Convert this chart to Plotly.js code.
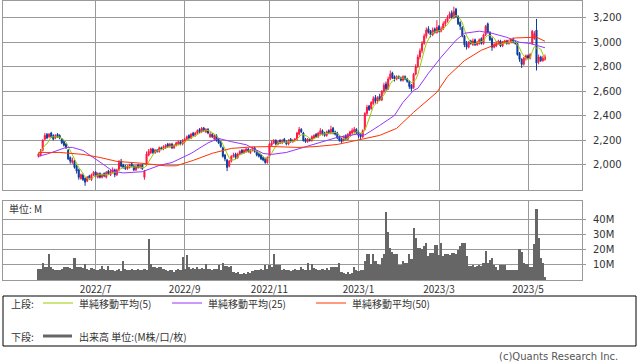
<!DOCTYPE html>
<html><head><meta charset="utf-8">
<script src="https://cdn.plot.ly/plotly-3.0.1.min.js"></script>
<style>html,body{margin:0;padding:0;background:#fff;}#chart{width:638px;height:362px;}</style>
</head><body><div id="chart"></div>
<script>
// ---- data (trading-day index 0 = 2022/5/25) ----
const openP = [
2070,2080,2120,2210,2250,2230,2260,2240,2220,2250,
2240,2210,2190,2170,2120,2060,2020,2030,1990,1960,
1890,1920,1890,1870,1910,1880,1920,1940,1900,1930,
1900,1930,1900,1950,1920,1940,1960,1920,1960,2030,
2000,1990,1970,1980,2010,1990,1960,2000,1980,2000,
1900,2000,2080,2100,2130,2100,2120,2110,2140,2130,
2140,2170,2150,2170,2140,2160,2170,2190,2170,2190,
2210,2240,2220,2260,2240,2260,2290,2270,2300,2270,
2290,2230,2250,2210,2240,2210,2190,2140,2080,2040,
1990,2030,2070,2090,2060,2090,2120,2100,2110,2130,
2100,2120,2140,2110,2090,2080,2060,2050,2020,2070,
2160,2180,2200,2170,2200,2180,2210,2190,2170,2210,
2190,2200,2210,2250,2290,2260,2210,2190,2210,2200,
2220,2250,2230,2250,2280,2260,2240,2280,2260,2300,
2270,2260,2230,2210,2200,2240,2210,2240,2260,2270,
2290,2270,2250,2230,2290,2420,2480,2460,2500,2550,
2520,2560,2530,2600,2660,2620,2700,2750,2720,2700,
2720,2710,2690,2720,2700,2680,2650,2630,2740,2800,
2880,2930,2990,3050,3110,3090,3060,3110,3080,3130,
3090,3110,3150,3170,3200,3240,3200,3270,3210,3160,
3120,3050,2990,2960,3010,2980,3020,2980,2990,3030,
2990,3060,3150,3080,3030,2960,2970,2990,3010,2970,
3000,3010,2990,3000,3020,3000,2990,2910,2860,2820,
2870,2890,2870,2990,3030,3100,2840,2880,2850,2860];
const highP = [
2100,2130,2210,2260,2260,2260,2270,2250,2250,2260,
2250,2220,2200,2180,2130,2070,2060,2040,2000,1970,
1930,1930,1900,1910,1920,1930,1950,1950,1940,1940,
1930,1940,1950,1960,1960,1980,1970,1970,2040,2050,
2010,2000,2000,2010,2020,2000,2000,2010,2010,2010,
1960,2110,2130,2140,2140,2130,2130,2150,2150,2160,
2170,2180,2180,2180,2170,2190,2200,2200,2210,2220,
2240,2250,2260,2270,2270,2290,2300,2310,2310,2300,
2300,2270,2260,2250,2250,2220,2200,2150,2090,2050,
2040,2080,2100,2100,2100,2120,2130,2130,2140,2140,
2130,2150,2150,2120,2100,2090,2070,2060,2070,2180,
2200,2210,2210,2200,2210,2210,2220,2200,2210,2220,
2210,2220,2270,2310,2300,2270,2220,2220,2220,2240,
2250,2260,2270,2300,2290,2270,2280,2290,2320,2310,
2280,2270,2240,2220,2240,2250,2260,2280,2300,2310,
2300,2280,2260,2290,2430,2490,2490,2520,2560,2570,
2560,2580,2610,2670,2680,2720,2770,2760,2730,2730,
2730,2720,2730,2730,2710,2690,2660,2750,2820,2900,
2950,3010,3070,3120,3130,3100,3120,3120,3180,3140,
3130,3170,3190,3220,3250,3260,3290,3280,3220,3170,
3130,3060,3010,3010,3020,3030,3030,3010,3030,3040,
3070,3140,3160,3090,3040,3000,3010,3020,3020,3010,
3020,3020,3010,3030,3040,3010,2990,2920,2870,2880,
2900,2900,2910,3100,3090,3190,2900,2890,2890,2900];
const lowP = [
2060,2070,2110,2200,2210,2220,2220,2200,2210,2220,
2210,2170,2150,2130,2040,2010,2010,1970,1930,1880,
1880,1870,1830,1860,1880,1870,1910,1900,1890,1890,
1890,1900,1890,1920,1910,1930,1900,1910,1950,1980,
1970,1960,1960,1970,1980,1950,1950,1970,1970,1960,
1880,1990,2070,2090,2090,2090,2100,2100,2120,2120,
2130,2140,2140,2130,2130,2150,2160,2160,2160,2180,
2200,2210,2210,2230,2230,2250,2260,2260,2270,2260,
2250,2220,2220,2200,2190,2170,2140,2060,2030,1950,
1980,2020,2060,2050,2050,2080,2090,2090,2100,2100,
2090,2110,2100,2070,2060,2040,2030,2010,2010,2060,
2150,2170,2160,2160,2170,2170,2180,2160,2160,2180,
2180,2190,2200,2240,2260,2190,2180,2180,2190,2190,
2210,2220,2220,2240,2240,2230,2230,2250,2250,2250,
2240,2210,2190,2180,2190,2200,2200,2230,2250,2260,
2250,2220,2210,2220,2280,2400,2440,2450,2490,2500,
2500,2520,2520,2580,2600,2610,2690,2700,2680,2690,
2700,2680,2680,2690,2670,2620,2600,2620,2730,2790,
2860,2910,2980,3030,3070,3040,3050,3070,3070,3080,
3080,3100,3130,3160,3190,3190,3190,3200,3140,3100,
3040,2960,2940,2950,2980,2970,2970,2970,2980,2980,
2980,3050,3070,3010,2930,2950,2960,2980,2960,2960,
2990,2980,2980,2990,2990,2980,2890,2840,2790,2810,
2850,2860,2860,2980,3020,2770,2820,2840,2840,2850];
const closeP = [
2090,2110,2200,2240,2220,2250,2230,2210,2240,2230,
2220,2180,2160,2140,2050,2030,2040,1980,1950,1900,
1920,1880,1860,1900,1890,1920,1940,1910,1930,1900,
1920,1910,1940,1930,1950,1960,1920,1960,2020,1990,
1980,1970,1990,2000,1990,1960,1990,1980,2000,1970,
1950,2090,2110,2130,2100,2120,2110,2140,2130,2150,
2160,2150,2170,2140,2160,2180,2190,2170,2200,2210,
2230,2220,2250,2240,2260,2280,2270,2300,2280,2290,
2260,2250,2230,2240,2200,2180,2150,2070,2050,1980,
2030,2070,2080,2060,2090,2110,2100,2120,2130,2110,
2120,2140,2110,2080,2070,2050,2040,2020,2060,2170,
2180,2200,2170,2190,2180,2200,2190,2170,2200,2190,
2200,2210,2260,2290,2270,2200,2190,2210,2200,2230,
2240,2230,2260,2280,2250,2240,2270,2260,2290,2260,
2250,2220,2200,2190,2230,2210,2250,2270,2280,2290,
2260,2240,2230,2280,2420,2470,2450,2510,2540,2520,
2550,2530,2600,2650,2620,2700,2740,2710,2700,2720,
2710,2690,2720,2700,2680,2640,2620,2740,2800,2880,
2930,2990,3050,3100,3080,3060,3100,3080,3120,3090,
3110,3150,3170,3200,3230,3200,3250,3210,3150,3130,
3050,2980,2960,3000,2990,3010,2980,3000,3020,2990,
3060,3130,3080,3020,2960,2980,2990,3010,2970,3000,
3010,2990,3000,3020,3000,2990,2900,2860,2820,2870,
2890,2870,2900,3090,3070,2830,2880,2850,2870,2880];
const volumeM = [
7,7,11,8,8,17,8.5,7,6.5,6,
6.5,7,8,8,8.5,7.5,7,14,8.5,8.5,
8,7.5,10,7,6.5,7.5,7,6,6.5,7,
9,7,6.5,9,6.5,6,5.5,6.5,7,5.5,
12,7,6.5,6,7,6,6.5,7,6,6.5,
7,6,27,10,8,8,7.5,8,8.5,7,
6,5.5,6.5,6,5,6,7,6,14.7,7,
16,8,7,7.5,7,8,7,7.5,7,10,
7,7,6.5,7,7,9.7,6,11,9,9,
8.5,9,5,4.5,5,4,3.5,4.5,4,5,
4.5,5.5,6,6.5,6,7,6.5,9.5,7,9.7,
8,17,9.7,9.5,9.7,6,7,6.5,6,5.5,
6,7,6.5,6,8.5,7,6.5,11,6,10.5,
7.5,7,6,6.5,7,6,7.5,6.5,8.5,8.5,
8,8,11,5,4.5,4,5,3.5,4.5,8.5,
6,5.5,6,6.5,12,16.7,16.7,10,16.7,12,
10,9.5,14.4,16.7,44.6,31.6,21,18.5,17,17,
9.7,9.7,12,11,11,16.7,13.8,34.3,27.8,21.2,
21,20,22,24.4,15.7,17.6,17.6,23,23,16,
24.4,15.7,17,17,16,17.6,17.6,17,19.6,22,
24.4,24.4,15.7,9,9,9.5,8.5,9,9.5,9,
11,19,11,13,14.4,9.4,8,6.5,9.4,9.4,
9.4,6.5,6,6.5,6,6.5,6,20,18.5,11,
10,10,8.5,8.5,23.6,47,27.8,14.4,11,2];
// moving averages (day index, value)
const ma25Day = [0,5,13,16,21,26,30,35,40,49,57,63,72,80,85,91,98,106,110,117,128,132,141,150,154,161,168,172,177,179,184,190,197,201,208,214,221,227,232,239];
const ma25Val = [2070,2094,2143,2143,2118,2061,2012,1950,1935,1945,1996,2020,2094,2180,2216,2190,2165,2094,2086,2102,2159,2184,2225,2250,2245,2322,2404,2510,2608,2624,2747,2878,3016,3073,3090,3073,3040,3000,2990,2955];
const ma50Day = [0,10,21,29,37,48,60,65,73,82,91,101,110,123,131,141,150,161,169,177,188,193,201,209,215,221,225,235,239];
const ma50Val = [2102,2102,2086,2061,2029,2015,1993,1993,2037,2095,2135,2147,2150,2143,2150,2167,2200,2241,2298,2429,2592,2720,2850,2935,2976,3010,3035,3041,3008];
const tickDay = [27,69,109,151,189,231];
const tickText = ['2022/7','2022/9','2022/11','2023/1','2023/3','2023/5'];
const priceTicks = [2000,2200,2400,2600,2800,3000,3200];
const priceTickText = ['2,000','2,200','2,400','2,600','2,800','3,000','3,200'];
const volTicks = [10,20,30,40];
const volTickText = ['10M','20M','30M','40M'];

const N = closeP.length;
const day = []; for (let i = 0; i < N; i++) day.push(i);
const ma5 = closeP.map((c, i) => { const s = closeP.slice(Math.max(0, i - 4), i + 1); return s.reduce((a, b) => a + b, 0) / s.length; });

// ---- geometry ----
const W = 638, H = 362, L = 3, R = 56, T = 1, B = 82;
const pw = W - L - R, ph = H - T - B;
const px = x => (x - L) / pw;
const py = y => (H - B - y) / ph;

const grid = '#999999';
const txt = '#333333';
const numFont = {family: 'DejaVu Sans', size: 10, color: txt};
const jpFont = {family: 'Noto Sans CJK JP', size: 10, color: txt};

const traces = [
  {type: 'candlestick', x: day, open: openP, high: highP, low: lowP, close: closeP,
   xaxis: 'x', yaxis: 'y', whiskerwidth: 0,
   increasing: {line: {color: '#ff1744', width: 1}, fillcolor: '#ff1744'},
   decreasing: {line: {color: '#0d3d9c', width: 1}, fillcolor: '#0d3d9c'},
   hoverinfo: 'skip'},
  {type: 'scatter', mode: 'lines', x: day, y: ma5, xaxis: 'x', yaxis: 'y', line: {color: '#99cc00', width: 1}, hoverinfo: 'skip'},
  {type: 'scatter', mode: 'lines', x: ma25Day, y: ma25Val, xaxis: 'x', yaxis: 'y', line: {color: '#9933ff', width: 1}, hoverinfo: 'skip'},
  {type: 'scatter', mode: 'lines', x: ma50Day, y: ma50Val, xaxis: 'x', yaxis: 'y', line: {color: '#ff3300', width: 1}, hoverinfo: 'skip'},
  {type: 'bar', x: day, y: volumeM, xaxis: 'x2', yaxis: 'y2', marker: {color: '#666666', line: {width: 0}}, hoverinfo: 'skip'}
];

const xr = [-16.74, 256.47];
const ann = (text, x, y, anchor, font) => ({text, xref: 'paper', yref: 'paper', x: px(x), y: py(y), xanchor: anchor, yanchor: 'middle', showarrow: false, borderpad: 0, font});
const layout = {
  width: W, height: H, margin: {l: L, r: R, t: T, b: B, pad: 0},
  paper_bgcolor: '#fff', plot_bgcolor: '#fff', showlegend: false, hovermode: false,
  bargap: 0, boxgap: 0.3,
  xaxis: {domain: [0, 1], range: xr, anchor: 'y', tickmode: 'array', tickvals: tickDay, ticktext: tickText,
          showticklabels: false, showgrid: true, gridcolor: grid, gridwidth: 1, zeroline: false,
          showline: true, mirror: true, linecolor: grid, linewidth: 1, ticks: '', rangeslider: {visible: false}, fixedrange: true},
  yaxis: {domain: [py(190), 1], range: [1796, 3336], anchor: 'x', side: 'right', tickmode: 'array', tickvals: priceTicks, ticktext: priceTickText,
          tickfont: numFont, ticks: 'outside', ticklen: 3, tickcolor: grid, ticklabelstandoff: 5,
          showgrid: true, gridcolor: grid, zeroline: false, showline: true, mirror: true, linecolor: grid, linewidth: 1, fixedrange: true},
  xaxis2: {domain: [0, 1], range: xr, anchor: 'y2', matches: 'x', tickmode: 'array', tickvals: tickDay, ticktext: tickText,
           tickfont: {family: 'Noto Sans CJK JP', size: 10, color: txt}, ticks: '', ticklabelstandoff: 0,
           showgrid: true, gridcolor: grid, zeroline: false, showline: true, mirror: true, linecolor: grid, linewidth: 1, fixedrange: true},
  yaxis2: {domain: [0, py(201)], range: [-0.3, 52], anchor: 'x2', side: 'right', tickmode: 'array', tickvals: volTicks, ticktext: volTickText,
           tickfont: numFont, ticks: 'outside', ticklen: 3, tickcolor: grid, ticklabelstandoff: 5,
           showgrid: true, gridcolor: grid, zeroline: false, showline: true, mirror: true, linecolor: grid, linewidth: 1, fixedrange: true},
  shapes: [
    {type: 'rect', xref: 'paper', yref: 'paper', x0: px(3), x1: px(636), y0: py(296), y1: py(346), line: {color: '#000', width: 1}, fillcolor: 'rgba(0,0,0,0)'},
    {type: 'line', xref: 'paper', yref: 'paper', x0: px(43), x1: px(73), y0: py(303), y1: py(303), line: {color: '#99cc00', width: 1}},
    {type: 'line', xref: 'paper', yref: 'paper', x0: px(172), x1: px(202), y0: py(303), y1: py(303), line: {color: '#9933ff', width: 1}},
    {type: 'line', xref: 'paper', yref: 'paper', x0: px(316), x1: px(346), y0: py(303), y1: py(303), line: {color: '#ff3300', width: 1}},
    {type: 'line', xref: 'paper', yref: 'paper', x0: px(43), x1: px(72), y0: py(336), y1: py(336), line: {color: '#666666', width: 3}}
  ],
  annotations: [
    ann('単位: M', 8, 208, 'left', jpFont),
    ann('上段:', 10, 303, 'left', jpFont),
    ann('単純移動平均(5)', 78, 303, 'left', jpFont),
    ann('単純移動平均(25)', 207, 303, 'left', jpFont),
    ann('単純移動平均(50)', 351, 303, 'left', jpFont),
    ann('下段:', 10, 336, 'left', jpFont),
    ann('出来高 単位:(M株/口/枚)', 78, 336, 'left', jpFont),
    ann('(c)Quants Research Inc.', 619, 356, 'right', {family: 'DejaVu Sans', size: 10, color: '#555555'})
  ]
};
Plotly.newPlot('chart', traces, layout, {staticPlot: true, displayModeBar: false});
</script></body></html>
